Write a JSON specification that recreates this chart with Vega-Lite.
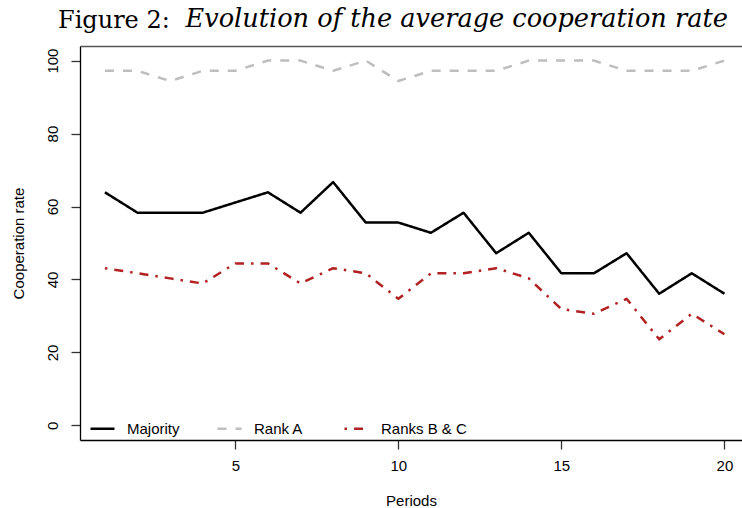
{
  "$schema": "https://vega.github.io/schema/vega-lite/v6.json",
  "width": 662,
  "height": 394,
  "autosize": {"type": "none"},
  "padding": {"left": 80, "top": 46, "right": 0, "bottom": 68},
  "background": "white",
  "title": {
    "text": "Figure 2:",
    "font": "DejaVu Serif",
    "fontSize": 24,
    "fontWeight": "normal",
    "color": "#000",
    "anchor": "start",
    "frame": "group",
    "baseline": "alphabetic",
    "dx": -22,
    "dy": 46,
    "offset": 0
  },
  "config": {
    "view": {"stroke": null},
    "font": "Liberation Sans",
    "axis": {
      "grid": false,
      "labelFont": "Liberation Sans",
      "titleFont": "Liberation Sans",
      "labelFontSize": 15,
      "titleFontSize": 15,
      "titleFontWeight": "normal",
      "labelColor": "#000",
      "titleColor": "#000",
      "domainColor": "#000",
      "domainWidth": 1.3,
      "tickColor": "#333",
      "tickWidth": 1.3
    }
  },
  "data": {
    "values": [
      {"period": 1, "group": "Majority", "rate": 63.9},
      {"period": 2, "group": "Majority", "rate": 58.3},
      {"period": 3, "group": "Majority", "rate": 58.3},
      {"period": 4, "group": "Majority", "rate": 58.3},
      {"period": 5, "group": "Majority", "rate": 61.1},
      {"period": 6, "group": "Majority", "rate": 63.9},
      {"period": 7, "group": "Majority", "rate": 58.3},
      {"period": 8, "group": "Majority", "rate": 66.7},
      {"period": 9, "group": "Majority", "rate": 55.6},
      {"period": 10, "group": "Majority", "rate": 55.6},
      {"period": 11, "group": "Majority", "rate": 52.8},
      {"period": 12, "group": "Majority", "rate": 58.3},
      {"period": 13, "group": "Majority", "rate": 47.2},
      {"period": 14, "group": "Majority", "rate": 52.8},
      {"period": 15, "group": "Majority", "rate": 41.7},
      {"period": 16, "group": "Majority", "rate": 41.7},
      {"period": 17, "group": "Majority", "rate": 47.2},
      {"period": 18, "group": "Majority", "rate": 36.1},
      {"period": 19, "group": "Majority", "rate": 41.7},
      {"period": 20, "group": "Majority", "rate": 36.1},
      {"period": 1, "group": "Rank A", "rate": 97.2},
      {"period": 2, "group": "Rank A", "rate": 97.2},
      {"period": 3, "group": "Rank A", "rate": 94.4},
      {"period": 4, "group": "Rank A", "rate": 97.2},
      {"period": 5, "group": "Rank A", "rate": 97.2},
      {"period": 6, "group": "Rank A", "rate": 100},
      {"period": 7, "group": "Rank A", "rate": 100},
      {"period": 8, "group": "Rank A", "rate": 97.2},
      {"period": 9, "group": "Rank A", "rate": 100},
      {"period": 10, "group": "Rank A", "rate": 94.4},
      {"period": 11, "group": "Rank A", "rate": 97.2},
      {"period": 12, "group": "Rank A", "rate": 97.2},
      {"period": 13, "group": "Rank A", "rate": 97.2},
      {"period": 14, "group": "Rank A", "rate": 100},
      {"period": 15, "group": "Rank A", "rate": 100},
      {"period": 16, "group": "Rank A", "rate": 100},
      {"period": 17, "group": "Rank A", "rate": 97.2},
      {"period": 18, "group": "Rank A", "rate": 97.2},
      {"period": 19, "group": "Rank A", "rate": 97.2},
      {"period": 20, "group": "Rank A", "rate": 100},
      {"period": 1, "group": "Ranks B & C", "rate": 43.1},
      {"period": 2, "group": "Ranks B & C", "rate": 41.7},
      {"period": 3, "group": "Ranks B & C", "rate": 40.3},
      {"period": 4, "group": "Ranks B & C", "rate": 38.9},
      {"period": 5, "group": "Ranks B & C", "rate": 44.4},
      {"period": 6, "group": "Ranks B & C", "rate": 44.4},
      {"period": 7, "group": "Ranks B & C", "rate": 38.9},
      {"period": 8, "group": "Ranks B & C", "rate": 43.1},
      {"period": 9, "group": "Ranks B & C", "rate": 41.7},
      {"period": 10, "group": "Ranks B & C", "rate": 34.7},
      {"period": 11, "group": "Ranks B & C", "rate": 41.7},
      {"period": 12, "group": "Ranks B & C", "rate": 41.7},
      {"period": 13, "group": "Ranks B & C", "rate": 43.1},
      {"period": 14, "group": "Ranks B & C", "rate": 40.3},
      {"period": 15, "group": "Ranks B & C", "rate": 31.9},
      {"period": 16, "group": "Ranks B & C", "rate": 30.6},
      {"period": 17, "group": "Ranks B & C", "rate": 34.7},
      {"period": 18, "group": "Ranks B & C", "rate": 23.6},
      {"period": 19, "group": "Ranks B & C", "rate": 30.6},
      {"period": 20, "group": "Ranks B & C", "rate": 25.0}
    ]
  },
  "resolve": {"axis": {"x": "independent"}},
  "layer": [
    {
      "mark": {"type": "line", "strokeWidth": 2.5, "strokeCap": "butt", "strokeJoin": "round"},
      "encoding": {
        "x": {
          "field": "period",
          "type": "quantitative",
          "scale": {"domain": [0.236, 20.54], "nice": false, "zero": false},
          "axis": {
            "orient": "bottom",
            "title": "Periods",
            "values": [5, 10, 15, 20],
            "tickSize": 9,
            "labelPadding": 9,
            "titlePadding": 20,
            "labelFlush": false,
            "labelOverlap": false
          }
        },
        "y": {
          "field": "rate",
          "type": "quantitative",
          "scale": {"domain": [-4, 104], "nice": false, "zero": false},
          "axis": {
            "title": "Cooperation rate",
            "values": [0, 20, 40, 60, 80, 100],
            "labelAngle": -90,
            "tickSize": 9,
            "labelPadding": 11,
            "titlePadding": 19,
            "labelFlush": false,
            "labelOverlap": false
          }
        },
        "color": {
          "field": "group",
          "type": "nominal",
          "scale": {"domain": ["Majority", "Rank A", "Ranks B & C"], "range": ["#000000", "#bebebe", "#b22222"]},
          "legend": {
            "orient": "none",
            "legendX": 9,
            "legendY": 369,
            "direction": "horizontal",
            "title": null,
            "symbolType": "stroke",
            "symbolSize": 576,
            "symbolStrokeWidth": 2.5,
            "labelFont": "Liberation Sans",
            "labelFontSize": 15,
            "labelColor": "#000",
            "labelOffset": 11,
            "columnPadding": -1,
            "gridAlign": "all",
            "padding": 0
          }
        },
        "strokeDash": {
          "field": "group",
          "type": "nominal",
          "scale": {"domain": ["Majority", "Rank A", "Ranks B & C"], "range": [[1, 0], [9, 9], [2.5, 7, 9, 7]]},
          "legend": null
        }
      }
    },
    {
      "mark": {"type": "point", "opacity": 0},
      "encoding": {
        "x": {
          "field": "period",
          "type": "quantitative",
          "axis": {
            "orient": "top",
            "labels": false,
            "ticks": false,
            "domainColor": "#555",
            "title": "Evolution of the average cooperation rate",
            "titleFont": "DejaVu Serif",
            "titleFontStyle": "italic",
            "titleFontSize": 25.6,
            "titleAlign": "left",
            "titleAnchor": "start",
            "titleBaseline": "alphabetic",
            "titleX": 105,
            "titleY": -20
          }
        },
        "y": {"field": "rate", "type": "quantitative"}
      }
    }
  ]
}
